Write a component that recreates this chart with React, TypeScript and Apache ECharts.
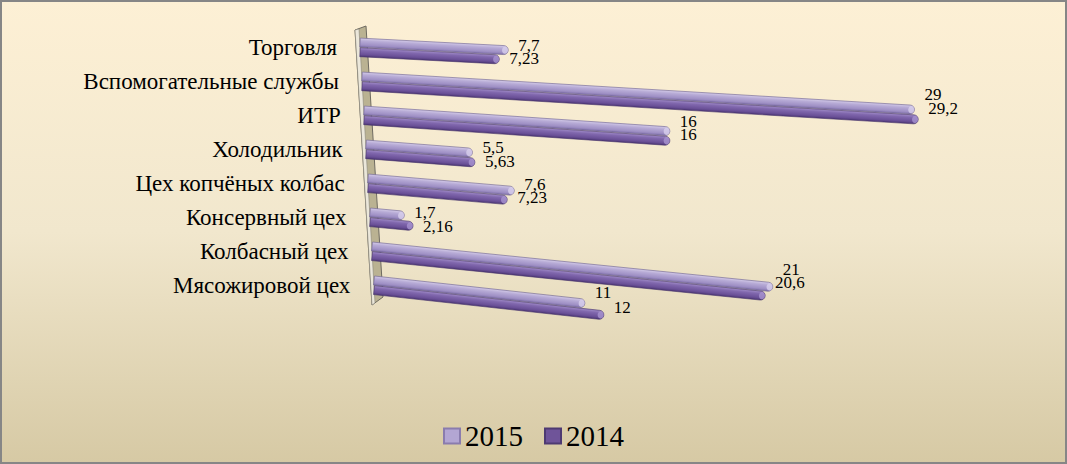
import { useEffect, useRef } from "react";
import * as echarts from "echarts";

const categories = [
  "Торговля",
  "Вспомогательные службы",
  "ИТР",
  "Холодильник",
  "Цех копчёных колбас",
  "Консервный цех",
  "Колбасный цех",
  "Мясожировой цех",
];
const values2015 = [7.7, 29, 16, 5.5, 7.6, 1.7, 21, 11];
const values2014 = [7.23, 29.2, 16, 5.63, 7.23, 2.16, 20.6, 12];
const seriesNames = ["2015", "2014"];

const FONT = "Liberation Serif";
const fmt = (v: number) => String(v).replace(".", ",");

function makeRender(offset: number, labelDy: number, stops: string[], cap: string, edge: string) {
  return (_params: any, api: any) => {
    const idx = api.value(0);
    const v = api.value(1);
    const start = api.coord([0, idx]);
    const end = api.coord([v, idx]);
    const slope = 0.052 + 0.0083 * idx;
    const x0 = start[0] + 2 * idx;
    const len = end[0] - start[0];
    const h = 9;
    const yc = start[1] + offset;
    const L = len * Math.sqrt(1 + slope * slope);
    const angle = -Math.atan(slope);
    return {
      type: "group",
      children: [
        {
          type: "group",
          x: x0,
          y: yc,
          rotation: angle,
          children: [
            {
              type: "rect",
              shape: { x: -2, y: -h / 2, width: L + 2, height: h, r: [0, h / 2, h / 2, 0] },
              style: {
                fill: new echarts.graphic.LinearGradient(0, 0, 0, 1, [
                  { offset: 0, color: stops[0] },
                  { offset: 0.3, color: stops[1] },
                  { offset: 0.75, color: stops[2] },
                  { offset: 1, color: stops[3] },
                ]),
                stroke: edge,
                lineWidth: 0.6,
              },
            },
            {
              type: "ellipse",
              shape: { cx: L - 3.2, cy: 0, rx: 3, ry: h / 2 - 0.8 },
              style: { fill: cap, opacity: 0.8 },
            },
          ],
        },
        {
          type: "text",
          x: x0 + len + 10,
          y: yc + slope * len * 0.6 + labelDy,
          style: {
            text: fmt(v),
            fill: "#000",
            font: `17px "${FONT}"`,
            align: "left",
            verticalAlign: "middle",
          },
        },
      ],
    };
  };
}

export default function App() {
  const ref = useRef<HTMLDivElement>(null);
  useEffect(() => {
    if (!ref.current) return;
    const chart = echarts.init(ref.current, undefined, { renderer: "svg" });
    const rich: any = {};
    categories.forEach((_c, i) => {
      rich["p" + i] = {
        fontSize: 23,
        fontFamily: FONT,
        color: "#000",
        padding: [0, Math.max(0, 17 - 1.9 * i), 0, 0],
      };
    });
    chart.setOption({
      animation: false,
      backgroundColor: new echarts.graphic.LinearGradient(0, 0, 0, 1, [
        { offset: 0, color: "#fdf0d5" },
        { offset: 0.5, color: "#f1e7cd" },
        { offset: 1, color: "#d6c9a4" },
      ]),
      grid: { left: 362, right: 107, top: 30.5, bottom: 161.5 },
      xAxis: {
        type: "value",
        min: 0,
        max: 31.5,
        show: false,
      },
      yAxis: {
        type: "category",
        data: categories,
        inverse: true,
        axisLine: { show: false },
        axisTick: { show: false },
        splitLine: { show: false },
        axisLabel: {
          margin: 8,
          formatter: (v: string, i: number) => `{p${i}|${v}}`,
          rich,
        },
      },
      legend: {
        data: seriesNames,
        left: "center",
        top: 415,
        icon: "rect",
        itemWidth: 16,
        itemHeight: 15,
        itemGap: 21,
        textStyle: { fontSize: 29, fontFamily: FONT, color: "#000", lineHeight: 32 },
      },
      graphic: [
        {
          type: "polygon",
          z: 0,
          shape: { points: [[355, 30], [366, 26], [383, 297], [372, 305]] },
          style: { fill: "#bab292", stroke: "#6e6a60", lineWidth: 1 },
        },
        {
          type: "polygon",
          z: 0,
          shape: { points: [[355, 30], [359, 29], [375, 303], [372, 305]] },
          style: { fill: "#ebe7da", stroke: "#8a867a", lineWidth: 0.6 },
        },
        {
          type: "rect",
          z: 100,
          shape: { x: 1, y: 1, width: 1065, height: 462 },
          style: { fill: "none", stroke: "#868686", lineWidth: 2 },
        },
      ],
      series: [
        {
          name: seriesNames[0],
          type: "custom",
          z: 3,
          itemStyle: { color: "#b3a6d3", borderColor: "#8a7cae", borderWidth: 1 },
          encode: { x: 1, y: 0 },
          data: values2015.map((v, i) => [i, v]),
          renderItem: makeRender(-4.8, -2, ["#d4cbe8", "#b7abd6", "#9f90c5", "#7f70a8"], "#d8d0ec", "#6d6290"),
        },
        {
          name: seriesNames[1],
          type: "custom",
          z: 2,
          itemStyle: { color: "#6f5499", borderColor: "#4e3a72", borderWidth: 1 },
          encode: { x: 1, y: 0 },
          data: values2014.map((v, i) => [i, v]),
          renderItem: makeRender(4.8, 2, ["#a18dc8", "#8168ae", "#6a5097", "#4d3776"], "#a894cf", "#46336a"),
        },
      ],
    });
    return () => chart.dispose();
  }, []);
  return (
    <div
      ref={ref}
      style={{ position: "fixed", left: 0, top: 0, width: 1067, height: 464 }}
    />
  );
}
